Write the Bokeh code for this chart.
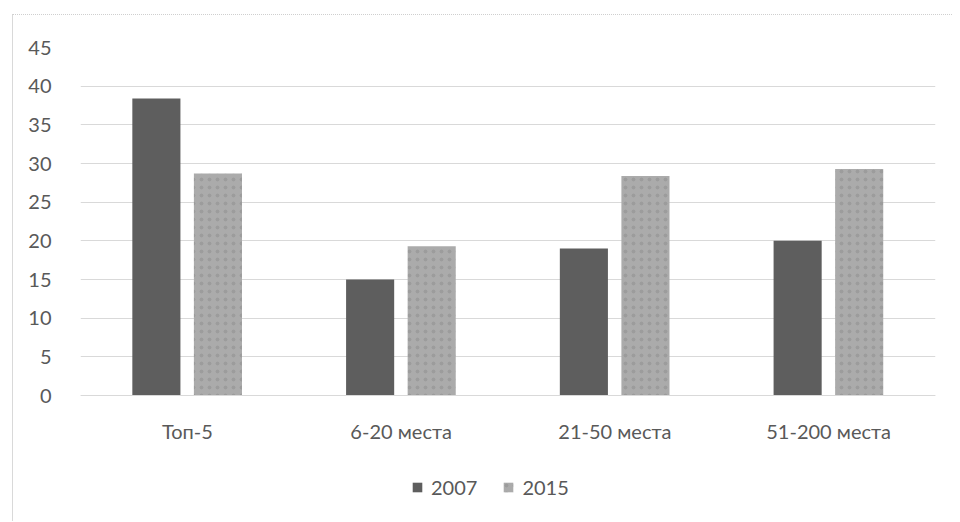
from bokeh.plotting import figure
from bokeh.models import ColumnDataSource, FactorRange, FixedTicker, Legend, LegendItem, Range1d
from bokeh.transform import dodge
from bokeh.embed import file_html
from bokeh.resources import INLINE

categories = ["Топ-5", "6-20 места", "21-50 места", "51-200 места"]
series_names = ["2007", "2015"]
values_2007 = [38.4, 15.0, 19.0, 20.0]
values_2015 = [28.7, 19.3, 28.4, 29.3]
y_ticks = [0, 5, 10, 15, 20, 25, 30, 35, 40, 45]

FONT = "Lato"
FS = "20px"
TEXT = "#595959"

src = ColumnDataSource(dict(cat=categories, v2007=values_2007, v2015=values_2015))

# the frame extends below 0 so that the category labels and the legend sit inside it
p = figure(
    x_range=FactorRange(*categories, range_padding=0),
    y_range=Range1d(-16.42, 45),
    width=940, height=507,
    output_backend="svg", toolbar_location=None,
    min_border_left=67, min_border_right=18, min_border_top=32, min_border_bottom=0,
    outline_line_color=None,
    styles={"margin-left": "12px", "margin-top": "14px",
            "border-left": "1px solid #d9d9d9", "border-top": "1px dotted #cfcfcf"},
)

r1 = p.vbar(x=dodge("cat", -0.145, range=p.x_range), top="v2007", width=0.225,
            source=src, fill_color="#5e5e5e", line_color=None)
r2 = p.vbar(x=dodge("cat", 0.143, range=p.x_range), top="v2015", width=0.225,
            source=src, fill_color="#ababab", line_color=None,
            hatch_pattern="dot", hatch_color="#808080", hatch_scale=8, hatch_weight=1, hatch_alpha=0.35)

p.ygrid.grid_line_color = "#d9d9d9"
p.ygrid.grid_line_width = 1
p.xgrid.grid_line_color = None

p.yaxis.ticker = FixedTicker(ticks=y_ticks)
p.yaxis.axis_line_color = None
p.yaxis.major_tick_line_color = None
p.yaxis.minor_tick_line_color = None
p.yaxis.major_label_standoff = 23
p.yaxis.major_label_text_font = FONT
p.yaxis.major_label_text_font_size = FS
p.yaxis.major_label_text_color = TEXT

p.xaxis.fixed_location = 0
p.xaxis.axis_line_color = "#d9d9d9"
p.xaxis.major_tick_line_color = None
p.xaxis.minor_tick_line_color = None
p.xaxis.major_label_standoff = 17
p.xaxis.major_label_text_font = FONT
p.xaxis.major_label_text_font_size = FS
p.xaxis.major_label_text_color = TEXT

legend = Legend(items=[LegendItem(label=series_names[0], renderers=[r1]),
                       LegendItem(label=series_names[1], renderers=[r2])],
                orientation="horizontal", location=(331, 23),
                glyph_width=12, glyph_height=12, spacing=25, label_standoff=8,
                label_text_font=FONT, label_text_font_size=FS, label_text_color=TEXT,
                border_line_color=None, background_fill_alpha=0, margin=0, padding=0)
p.add_layout(legend, "center")

open("out.html", "w").write(file_html(p, INLINE))
